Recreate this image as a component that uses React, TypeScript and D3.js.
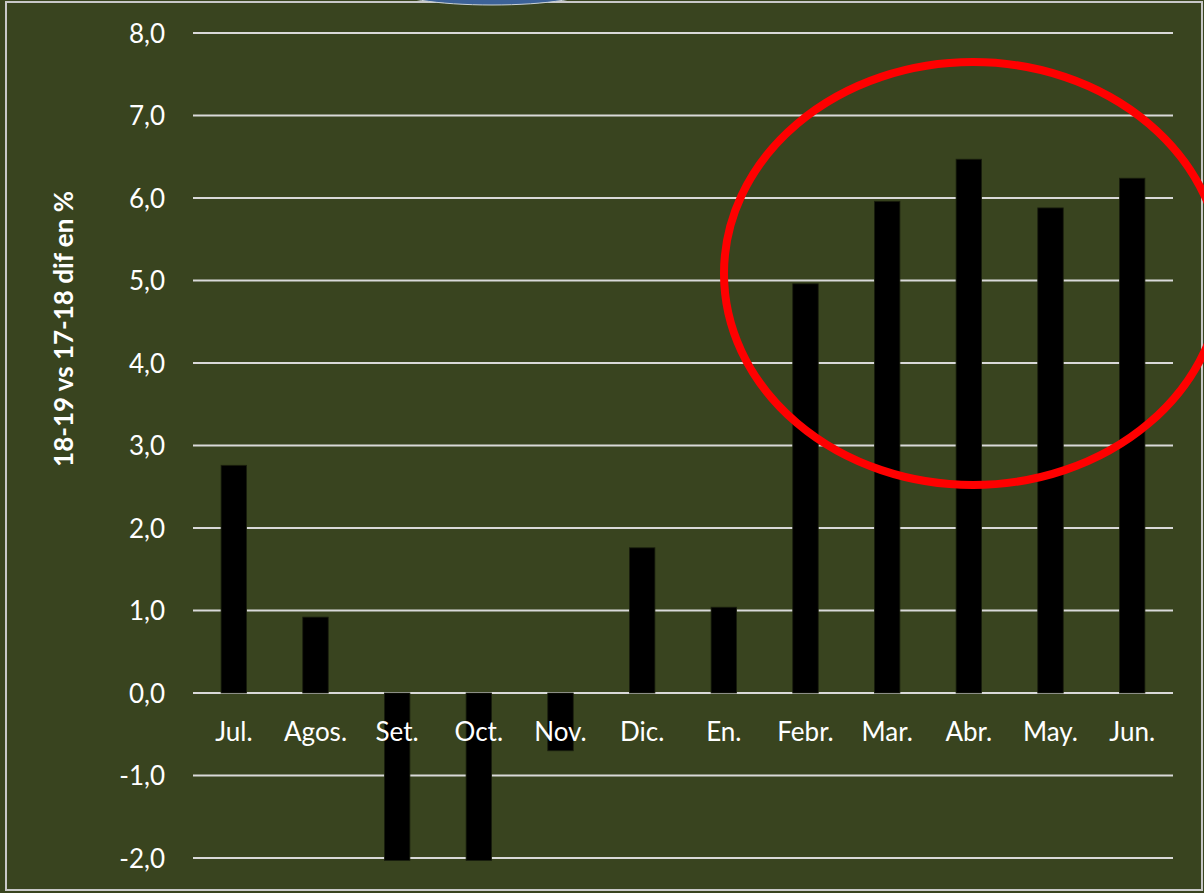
import React from "react";
import * as d3 from "d3";

const categories = ["Jul.", "Agos.", "Set.", "Oct.", "Nov.", "Dic.", "En.", "Febr.", "Mar.", "Abr.", "May.", "Jun."];
const values = [2.76, 0.92, -2.03, -2.03, -0.7, 1.76, 1.04, 4.96, 5.96, 6.47, 5.88, 6.24];
const yTicks = [-2, -1, 0, 1, 2, 3, 4, 5, 6, 7, 8];
const yTitle = "18-19 vs 17-18 dif en %";

const W = 1204;
const H = 893;
const BG = "#39441f";
const FONT = "Lato, 'Open Sans', sans-serif";

export default function App() {
  const x = d3.scaleBand<string>().domain(categories).range([193, 1173]).padding(0);
  const y = d3.scaleLinear().domain([-2, 8]).range([858, 33]);
  const bw = x.bandwidth() * 0.312;
  const fmt = (v: number) => v.toFixed(1).replace(".", ",");

  return (
    <svg
      width={W}
      height={H}
      style={{ position: "absolute", left: 0, top: 0, display: "block" }}
    >
      <rect x={0} y={0} width={W} height={H} fill={BG} />
      {/* border */}
      <rect x={6} y={2} width={1196} height={888} fill="none" stroke="#c8c8c8" strokeWidth={2} />
      {/* blue shape at top */}
      <ellipse cx={492} cy={-11} rx={100} ry={16} fill="#3c6298" stroke="#c9d1d6" strokeWidth={1} />
      {/* gridlines */}
      {yTicks.map((t) => (
        <line key={t} x1={193} x2={1173} y1={y(t)} y2={y(t)} stroke="#d9d9d9" strokeWidth={2} />
      ))}
      {/* y tick labels */}
      {yTicks.map((t) => (
        <text
          key={"l" + t}
          x={165}
          y={y(t) + 9.5}
          textAnchor="end"
          fill="#ffffff"
          fontFamily={FONT}
          fontSize={26}
        >
          {fmt(t)}
        </text>
      ))}
      {/* bars */}
      {categories.map((c, i) => {
        const v = values[i];
        const cx = (x(c) as number) + x.bandwidth() / 2;
        const y0 = y(0);
        const y1 = y(v);
        return (
          <rect
            key={c}
            x={cx - bw / 2}
            y={Math.min(y0, y1)}
            width={bw}
            height={Math.abs(y1 - y0)}
            fill="#000000"
            stroke="#1a1f0e"
            strokeWidth={0.8}
          />
        );
      })}
      {/* x labels */}
      {categories.map((c) => (
        <text
          key={"x" + c}
          x={(x(c) as number) + x.bandwidth() / 2}
          y={741}
          textAnchor="middle"
          fill="#ffffff"
          fontFamily={FONT}
          fontSize={26}
        >
          {c}
        </text>
      ))}
      {/* y title */}
      <text
        transform={`translate(73,${329}) rotate(-90)`}
        textAnchor="middle"
        fill="#ffffff"
        fontFamily={FONT}
        fontWeight="bold"
        fontSize={26}
      >
        {yTitle}
      </text>
      {/* red ellipse */}
      <ellipse cx={973} cy={273.5} rx={249} ry={211.5} fill="none" stroke="#ff0000" strokeWidth={8} />
    </svg>
  );
}
